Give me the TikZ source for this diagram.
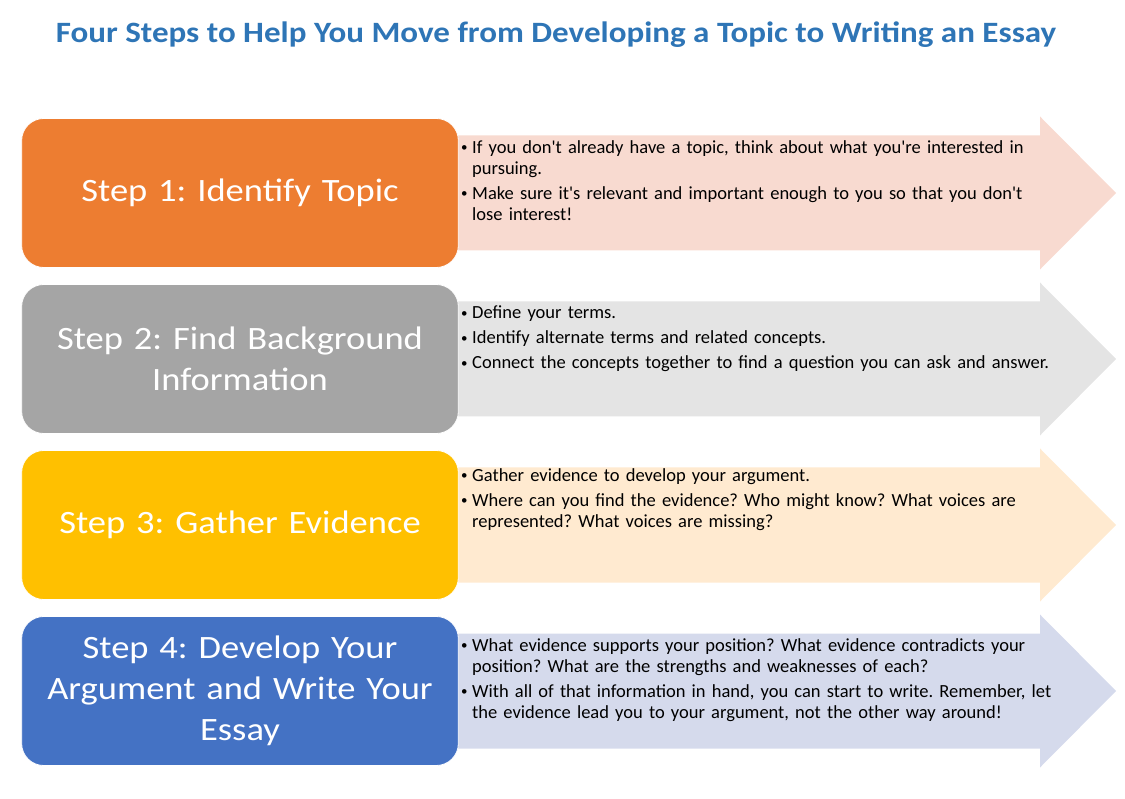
\documentclass[tikz,border=0pt]{standalone}
\usepackage{fontspec}
\setmainfont{Carlito}[Ligatures=TeXOff]
\newfontfamily\widefont[FakeStretch=1.12,Ligatures=TeXOff]{Carlito}
\usetikzlibrary{
	positioning
}
\definecolor{StepOrange}{RGB}{237,125,49}
\definecolor{StepGray}{RGB}{165,165,165}
\definecolor{StepGold}{RGB}{255,192,0}
\definecolor{StepBlue}{RGB}{68,114,196}
\definecolor{NoteOrange}{RGB}{248,218,208}
\definecolor{NoteGray}{RGB}{228,228,228}
\definecolor{NoteGold}{RGB}{255,234,208}
\definecolor{NoteBlue}{RGB}{213,218,236}
\definecolor{TitleBlue}{RGB}{46,117,182}
\newcommand{\bitem}[1]{\hangindent=12pt\hangafter=1\noindent\makebox[12pt][l]{\hspace{1pt}\raisebox{1.5pt}{\scalebox{0.7}{\textbullet}}}#1\par}
\tikzset{
	stepbox/.style={
		rectangle,
		rounded corners=22pt,
		minimum width=436pt,
		minimum height=149pt,
		draw=white,
		line width=0.8pt,
		text=white,
		align=center,
		text width=430pt,
		font=\widefont\fontsize{32.6}{41}\selectfont\frenchspacing
	},
	notes/.style={
		anchor=north west,
		inner sep=0pt,
		text width=640pt,
		align=left,
		font=\fontsize{18.5}{21}\selectfont\frenchspacing\setlength{\parskip}{4pt}
	}
}
\begin{document}
\begin{tikzpicture}[x=1pt,y=-1pt]
	\useasboundingbox (0,0) rectangle (1125,799);
	
	% Title
	\node[
	TitleBlue,
	font=\widefont\fontsize{29.5}{34}\selectfont\bfseries
	] (title) at (556,35) {Four Steps to Help You Move from Developing a Topic to Writing an Essay};
	
	% Arrows
	\fill[NoteOrange]
	(440,135.5) -- (1040,135.5) -- (1040,116.5) -- (1116,193) -- (1040,269.5) -- (1040,250.5) -- (440,250.5) -- cycle;
	
	\fill[NoteGray]
	(440,301.5) -- (1040,301.5) -- (1040,282.5) -- (1116,359) -- (1040,435.5) -- (1040,416.5) -- (440,416.5) -- cycle;
	
	\fill[NoteGold]
	(440,467.5) -- (1040,467.5) -- (1040,448.5) -- (1116,525) -- (1040,601.5) -- (1040,582.5) -- (440,582.5) -- cycle;
	
	\fill[NoteBlue]
	(440,633.5) -- (1040,633.5) -- (1040,614.5) -- (1116,691) -- (1040,767.5) -- (1040,748.5) -- (440,748.5) -- cycle;
	
	% Steps
	\node[stepbox, fill=StepOrange] (step1) at (240,193) {Step 1: Identify Topic};
	\node[stepbox, fill=StepGray] (step2) at (240,359) {Step 2: Find Background\\Information};
	\node[stepbox, fill=StepGold] (step3) at (240,525) {Step 3: Gather Evidence};
	\node[stepbox, fill=StepBlue] (step4) at (240,691) {Step 4: Develop Your\\Argument and Write Your\\Essay};
	
	% Notes
	\node[notes] (note1) at (460,140) {%
		\bitem{If you don't already have a topic, think about what you're interested in\newline pursuing.}
		\bitem{Make sure it's relevant and important enough to you so that you don't\newline lose interest!}};
	
	\node[notes] (note2) at (460,306) {%
		\bitem{Define your terms.}
		\bitem{Identify alternate terms and related concepts.}
		\bitem{Connect the concepts together to find a question you can ask and answer.}};
	
	\node[notes] (note3) at (460,468) {%
		\bitem{Gather evidence to develop your argument.}
		\bitem{Where can you find the evidence? Who might know? What voices are\newline represented? What voices are missing?}};
	
	\node[notes] (note4) at (460,638) {%
		\bitem{What evidence supports your position? What evidence contradicts your\newline position? What are the strengths and weaknesses of each?}
		\bitem{With all of that information in hand, you can start to write. Remember, let\newline the evidence lead you to your argument, not the other way around!}};
	
\end{tikzpicture}
\end{document}
